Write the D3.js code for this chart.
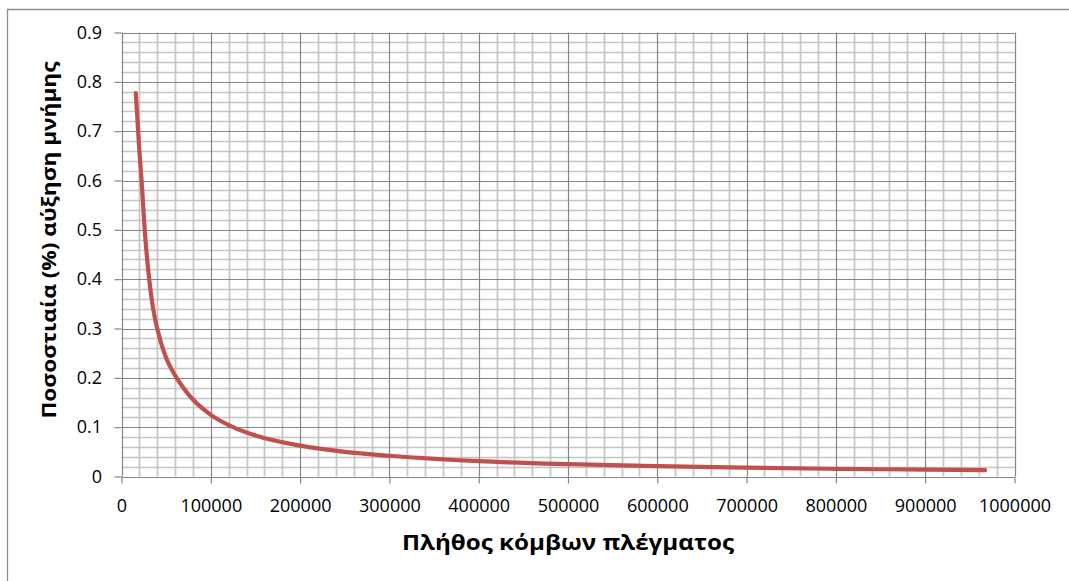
<!DOCTYPE html>
<html>
<head>
<meta charset="utf-8">
<script src="https://cdn.jsdelivr.net/npm/d3@7"></script>
<style>
  html, body { margin: 0; padding: 0; background: #fff; }
  svg { display: block; }
  text { font-family: "Open Sans", "Liberation Sans", sans-serif; fill: #000; }
</style>
</head>
<body>
<svg id="chart" width="1069" height="581"></svg>
<script>
// Mesh node count and the corresponding percentage memory increase
const nodeCounts = [16000, 20000, 22500, 26000, 31000, 35000, 40000, 50000, 60000, 70000,
  80000, 100000, 125000, 150000, 200000, 250000, 300000, 400000, 500000, 600000,
  700000, 800000, 900000, 967000];
const memoryIncrease = [0.777, 0.66, 0.60, 0.50, 0.40, 0.345, 0.30, 0.24, 0.205, 0.178,
  0.156, 0.125, 0.10, 0.083, 0.0625, 0.05, 0.042, 0.031, 0.025, 0.021,
  0.018, 0.0156, 0.014, 0.0129];

const xTicks = [0, 100000, 200000, 300000, 400000, 500000, 600000, 700000, 800000, 900000, 1000000];
const yTicks = [0, 0.1, 0.2, 0.3, 0.4, 0.5, 0.6, 0.7, 0.8, 0.9];
const xTitle = "Πλήθος κόμβων πλέγματος";
const yTitle = "Ποσοστιαία (%) αύξηση μνήμης";

const svg = d3.select("#chart");
const plot = { left: 121.5, right: 1014.5, top: 32.5, bottom: 476.5 };

const x = d3.scaleLinear().domain([0, 1000000]).range([plot.left, plot.right]);
const y = d3.scaleLinear().domain([0, 0.9]).range([plot.bottom, plot.top]);

// chart frame (left and top edges visible)
svg.append("path")
  .attr("d", "M7.5,581 V9.5 H1069")
  .attr("fill", "none")
  .attr("stroke", "#8e8e8e")
  .attr("stroke-width", 1.3);

// minor gridlines
const xMinor = d3.range(0, 1000001, 20000).filter(v => v % 100000 !== 0);
const yMinor = d3.range(0, 91, 2).filter(v => v % 10 !== 0).map(v => v / 100);

const grid = svg.append("g");
grid.selectAll("line.xm").data(xMinor).join("line")
  .attr("x1", d => Math.round(x(d)) + 0.5).attr("x2", d => Math.round(x(d)) + 0.5)
  .attr("y1", plot.top).attr("y2", plot.bottom)
  .attr("stroke", "#c4c4c4").attr("stroke-width", 1.7);
grid.selectAll("line.ym").data(yMinor).join("line")
  .attr("y1", d => Math.round(y(d)) + 0.5).attr("y2", d => Math.round(y(d)) + 0.5)
  .attr("x1", plot.left).attr("x2", plot.right)
  .attr("stroke", "#c4c4c4").attr("stroke-width", 1.7);

// major gridlines
grid.selectAll("line.xM").data(xTicks).join("line")
  .attr("x1", d => Math.round(x(d)) + 0.5).attr("x2", d => Math.round(x(d)) + 0.5)
  .attr("y1", plot.top).attr("y2", plot.bottom)
  .attr("stroke", "#858585").attr("stroke-width", 1.2);
grid.selectAll("line.yM").data(yTicks).join("line")
  .attr("y1", d => Math.round(y(d)) + 0.5).attr("y2", d => Math.round(y(d)) + 0.5)
  .attr("x1", plot.left).attr("x2", plot.right)
  .attr("stroke", "#858585").attr("stroke-width", 1.2);

// axes
const xAxis = svg.append("g")
  .attr("transform", `translate(0,${plot.bottom})`)
  .call(d3.axisBottom(x).tickValues(xTicks).tickFormat(d3.format("d"))
    .tickSizeInner(7).tickSizeOuter(0).tickPadding(10));
xAxis.selectAll("path, line").attr("stroke", "#858585").attr("stroke-width", 1.2);
xAxis.selectAll("text")
  .attr("y", 35).attr("dy", null)
  .style("font-size", "18px").style("font-family", "'Open Sans', sans-serif");

const yAxis = svg.append("g")
  .attr("transform", `translate(${plot.left},0)`)
  .call(d3.axisLeft(y).tickValues(yTicks).tickFormat(d => d === 0 ? "0" : d3.format(".1f")(d))
    .tickSizeInner(7).tickSizeOuter(0).tickPadding(12));
yAxis.selectAll("path, line").attr("stroke", "#858585").attr("stroke-width", 1.2);
yAxis.selectAll("text")
  .attr("x", -19.5)
  .style("font-size", "18px").style("font-family", "'Open Sans', sans-serif");
svg.selectAll(".domain").remove();

// data line
const line = d3.line()
  .x((d, i) => x(nodeCounts[i]))
  .y(d => y(d))
  .curve(d3.curveMonotoneX);

svg.append("path")
  .datum(memoryIncrease)
  .attr("d", line)
  .attr("fill", "none")
  .attr("stroke", "#c0504d")
  .attr("stroke-width", 4.2)
  .attr("stroke-linecap", "round")
  .attr("stroke-linejoin", "round");

// axis titles
svg.append("text")
  .attr("x", 568).attr("y", 550)
  .attr("text-anchor", "middle")
  .attr("textLength", 332).attr("lengthAdjust", "spacingAndGlyphs")
  .style("font-size", "22px").style("font-weight", "bold")
  .text(xTitle);

svg.append("text")
  .attr("transform", "translate(56,240) rotate(-90)")
  .attr("text-anchor", "middle")
  .attr("textLength", 357).attr("lengthAdjust", "spacingAndGlyphs")
  .style("font-size", "20px").style("font-weight", "bold")
  .text(yTitle);
</script>
</body>
</html>
